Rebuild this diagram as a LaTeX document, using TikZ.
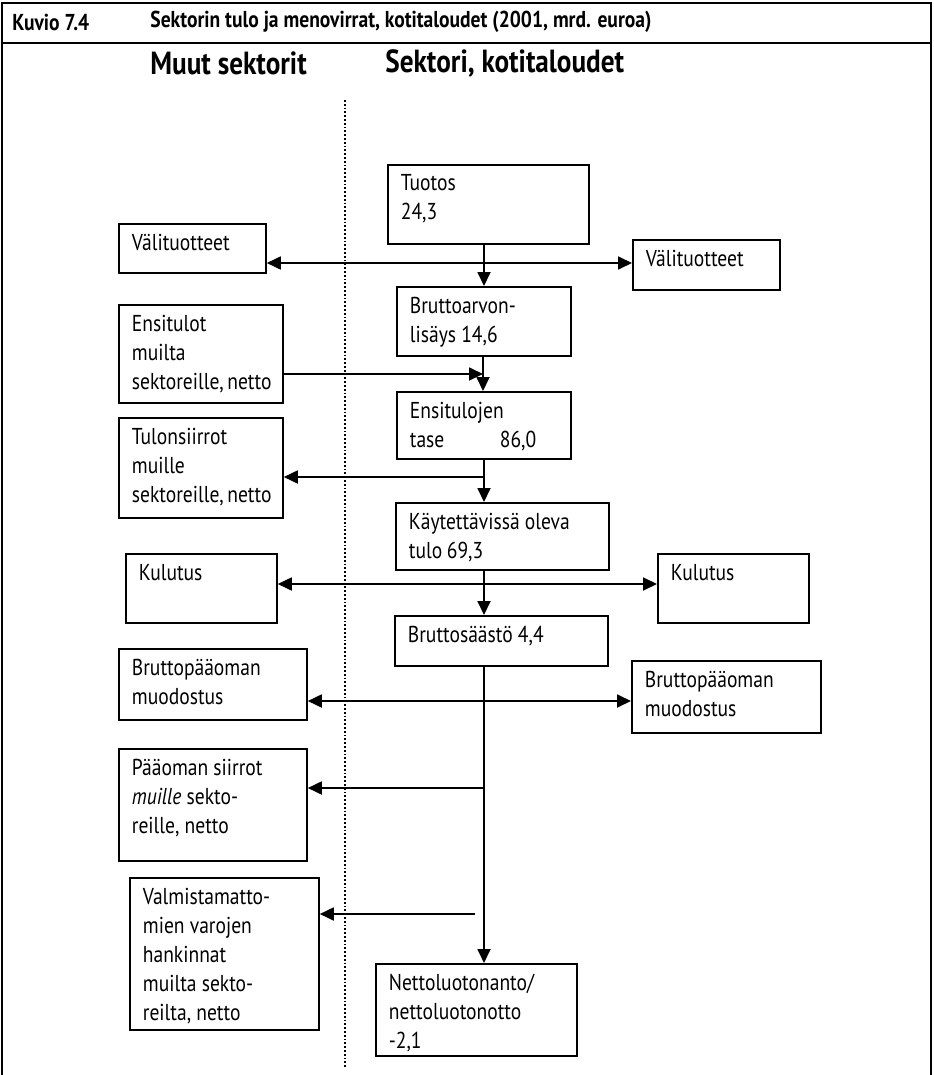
\documentclass[tikz,border=0pt]{standalone}
\usepackage{fontspec}
\setmainfont{PT Sans}
\newfontfamily\cond{PT Sans}[FakeStretch=0.85]
\usepackage{tikz}
\usetikzlibrary{calc,arrows.meta}

% box text: width, height (px), text
\newcommand{\bx}[3]{\parbox[c][\dimexpr #2pt/2-10pt\relax][t]{\dimexpr #1pt/2-13pt\relax}{\raggedright #3}}

\begin{document}
\begin{tikzpicture}[x=0.5pt,y=-0.5pt]
\tikzstyle{box}=[draw, line width=0.9pt, anchor=north west, inner xsep=6.5pt, inner ysep=5pt, font=\cond\fontsize{11.5}{14.5}\selectfont]
\tikzstyle{arr}=[line width=0.9pt, -{Triangle[length=7pt,width=6.5pt]}]
\tikzstyle{ttl}=[anchor=west, inner sep=0pt, font=\cond\fontsize{11.5}{13}\selectfont\bfseries]
\tikzstyle{hd}=[anchor=west, inner sep=0pt, font=\cond\fontsize{16}{18}\selectfont\bfseries]
\useasboundingbox (0,0) rectangle (933,1075);

% frame
\draw[line width=0.9pt] (2,1075) -- (2,3) -- (931,3) -- (931,1075);
\draw[line width=0.9pt] (2,43) -- (931,43);
\node[ttl] (kuvio) at (12,22) {Kuvio 7.4};
\node[ttl] (otsikko) at (150,22) {Sektorin tulo ja menovirrat, kotitaloudet (2001, mrd. euroa)};
\node[hd] (muut) at (150,63) {Muut sektorit};
\node[hd] (sektori) at (385,63) {Sektori, kotitaloudet};
\draw[densely dotted, line width=0.9pt] (345,100) -- (345,1068);

% sektori, kotitaloudet
\node[box] (tuotos) at (387,164) {\bx{201}{79}{Tuotos\\24,3}};
\node[box] (brutto) at (396,286) {\bx{174}{69}{Bruttoarvon-\\lisäys 14,6}};
\node[box] (ensi) at (396,391) {\bx{174}{67}{Ensitulojen\\\makebox[45pt][l]{tase}86,0}};
\node[box] (kayt) at (395,502) {\bx{213}{67}{Käytettävissä oleva\\\makebox[19pt][l]{tulo}69,3}};
\node[box] (saasto) at (394,615) {\bx{213}{50}{Bruttosäästö 4,4}};
\node[box] (netto) at (375,963) {\bx{201}{92}{Nettoluotonanto/\\nettoluotonotto\\-2,1}};

% muut sektorit
\node[box] (vaL) at (118,223) {\bx{147}{49}{Välituotteet}};
\node[box] (vaR) at (632,239) {\bx{147}{50}{Välituotteet}};
\node[box] (ensL) at (118,304) {\bx{164}{98}{Ensitulot\\muilta\\sektoreille,~netto}};
\node[box] (tuloL) at (118,417) {\bx{164}{100}{Tulonsiirrot\\muille\\sektoreille,~netto}};
\node[box] (kulL) at (125,553) {\bx{151}{69}{Kulutus}};
\node[box] (kulR) at (657,553) {\bx{151}{69}{Kulutus}};
\node[box] (bpoL) at (118,648) {\bx{188}{71}{Bruttopääoman\\muodostus}};
\node[box] (bpoR) at (631,660) {\bx{189}{72}{Bruttopääoman\\muodostus}};
\node[box] (psL) at (118,748) {\bx{188}{112}{Pääoman siirrot\\\textit{muille} sekto-\\reille, netto}};
\node[box] (valm) at (129,877) {\bx{189}{152}{Valmistamatto-\\mien varojen\\hankinnat\\muilta sekto-\\reilta, netto}};

\coordinate (jV) at (484,263);
\coordinate (jE) at (483,374);
\coordinate (jT) at (484,477);
\coordinate (jK) at (484,584);
\coordinate (jB) at (484,701);
\coordinate (jP) at (484,788);
\coordinate (jM) at (475,914);

\draw[arr] (tuotos.south -| jV) -- (brutto.north -| jV);
\draw[arr] (jV) -- (jV -| vaL.east);
\draw[arr] (jV) -- (jV -| vaR.west);
\draw[arr] (brutto.south -| jE) -- (ensi.north -| jE);
\draw[arr] (jE -| ensL.east) -- (jE);
\draw[arr] (ensi.south -| jT) -- (kayt.north -| jT);
\draw[arr] (jT) -- (jT -| tuloL.east);
\draw[arr] (kayt.south -| jK) -- (saasto.north -| jK);
\draw[arr] (jK) -- (jK -| kulL.east);
\draw[arr] (jK) -- (jK -| kulR.west);
\draw[arr] (saasto.south -| jB) -- (netto.north -| jB);
\draw[arr] (jB) -- (jB -| bpoL.east);
\draw[arr] (jB) -- (jB -| bpoR.west);
\draw[arr] (jP) -- (jP -| psL.east);
\draw[arr] (jM) -- (jM -| valm.east);
\end{tikzpicture}
\end{document}
